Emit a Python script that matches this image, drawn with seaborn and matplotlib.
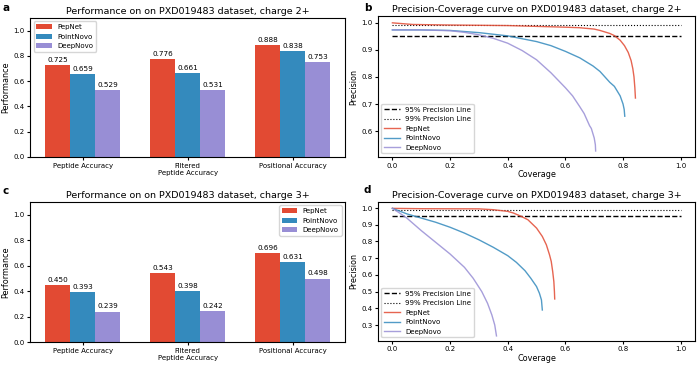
import numpy as np
import pandas as pd
import matplotlib
matplotlib.use("Agg")
import matplotlib.pyplot as plt
import seaborn as sns

# ---- data -------------------------------------------------------------
models = ["PepNet", "PointNovo", "DeepNovo"]
metrics = ["Peptide Accuracy", "Filtered\nPeptide Accuracy", "Positional Accuracy"]

perf_2 = {"PepNet": [0.725, 0.776, 0.888],
          "PointNovo": [0.659, 0.661, 0.838],
          "DeepNovo": [0.529, 0.531, 0.753]}
perf_3 = {"PepNet": [0.450, 0.543, 0.696],
          "PointNovo": [0.393, 0.398, 0.631],
          "DeepNovo": [0.239, 0.242, 0.498]}

# precision-coverage curves, charge 2+
pep2_cov = [0.0, 0.07, 0.2, 0.4, 0.6, 0.65, 0.7, 0.72, 0.754, 0.77, 0.79, 0.805,
            0.818, 0.828, 0.834, 0.838, 0.841, 0.843]
pep2_prec = [0.999, 0.993, 0.991, 0.989, 0.983, 0.981, 0.976, 0.971, 0.96, 0.952,
             0.935, 0.915, 0.89, 0.86, 0.83, 0.80, 0.76, 0.722]
pn2_cov = [0.0, 0.1, 0.2, 0.3, 0.4, 0.5, 0.55, 0.6, 0.65, 0.696, 0.72, 0.754, 0.77,
           0.79, 0.80, 0.804, 0.806]
pn2_prec = [0.973, 0.973, 0.971, 0.963, 0.951, 0.93, 0.915, 0.894, 0.87, 0.84, 0.82,
            0.78, 0.765, 0.73, 0.70, 0.68, 0.655]
dn2_cov = [0.0, 0.1, 0.2, 0.25, 0.3, 0.35, 0.4, 0.45, 0.5, 0.55, 0.6, 0.625, 0.65,
           0.665, 0.684, 0.69, 0.70, 0.704, 0.705]
dn2_prec = [0.973, 0.973, 0.97, 0.964, 0.955, 0.942, 0.924, 0.897, 0.863, 0.815,
            0.76, 0.73, 0.69, 0.665, 0.62, 0.61, 0.575, 0.55, 0.527]

# precision-coverage curves, charge 3+
pep3_cov = [0.0, 0.1, 0.3, 0.35, 0.4, 0.42, 0.447, 0.47, 0.5, 0.52, 0.534, 0.545,
            0.551, 0.556, 0.56, 0.562, 0.563]
pep3_prec = [0.998, 0.996, 0.995, 0.99, 0.98, 0.97, 0.95, 0.93, 0.88, 0.83, 0.78,
             0.72, 0.68, 0.62, 0.56, 0.50, 0.456]
pn3_cov = [0.0, 0.02, 0.05, 0.1, 0.15, 0.2, 0.25, 0.3, 0.35, 0.4, 0.43, 0.46, 0.48,
           0.5, 0.51, 0.517, 0.52]
pn3_prec = [0.998, 0.985, 0.965, 0.94, 0.915, 0.885, 0.85, 0.81, 0.765, 0.715, 0.675,
            0.625, 0.58, 0.53, 0.49, 0.45, 0.39]
dn3_cov = [0.0, 0.025, 0.05, 0.1, 0.15, 0.2, 0.25, 0.28, 0.31, 0.33, 0.345, 0.355,
           0.361]
dn3_prec = [0.998, 0.97, 0.94, 0.865, 0.795, 0.725, 0.645, 0.58, 0.50, 0.43, 0.36,
            0.30, 0.235]

precision_lines = [0.95, 0.99]
line_span = [0.0, 1.0]

colors = {"PepNet": "#E24A33", "PointNovo": "#348ABD", "DeepNovo": "#988ED5"}


def bar_panel(ax, perf, title, legend_loc):
    df = pd.DataFrame([(m, k, v) for m in models for k, v in zip(metrics, perf[m])],
                      columns=["model", "metric", "value"])
    sns.barplot(data=df, x="metric", y="value", hue="model", palette=colors,
                width=0.72, saturation=1, ax=ax)
    for cont in ax.containers:
        ax.bar_label(cont, fmt="%.3f", padding=1.5, fontsize=5.2)
    ax.set_ylim(0, 1.1)
    ax.set_yticks(np.arange(0, 1.01, 0.2))
    ax.set_xlabel("")
    ax.set_ylabel("Performance", fontsize=5.8, labelpad=2)
    ax.set_title(title, fontsize=6.8, pad=3)
    ax.tick_params(labelsize=5, length=2.5, pad=1.5)
    ax.legend(loc=legend_loc, fontsize=5, handlelength=2.2)


def curve_panel(ax, curves, title, ylim):
    ax.hlines(precision_lines[0], line_span[0], line_span[1], colors="black",
              linestyles="--", lw=1.0, label="95% Precision Line")
    ax.hlines(precision_lines[1], line_span[0], line_span[1], colors="black",
              linestyles=":", lw=0.8, label="99% Precision Line")
    for name, (cov, prec) in zip(models, curves):
        sns.lineplot(x=cov, y=prec, sort=False, estimator=None, color=colors[name],
                     lw=1.0, alpha=0.85, label=name, ax=ax)
    ax.set_xlim(-0.05, 1.05)
    ax.set_ylim(*ylim)
    ax.set_xticks(np.arange(0, 1.01, 0.2))
    ax.set_xlabel("Coverage", fontsize=5.8, labelpad=1)
    ax.set_ylabel("Precision", fontsize=5.8, labelpad=2)
    ax.set_title(title, fontsize=6.8, pad=3)
    ax.tick_params(labelsize=5, length=2.5, pad=1.5)
    ax.legend(loc="lower left", fontsize=5, handlelength=2.2)


fig = plt.figure(figsize=(7, 3.65), dpi=100)
ax_a = fig.add_axes([0.043, 0.570, 0.450, 0.381])
ax_b = fig.add_axes([0.540, 0.570, 0.453, 0.386])
ax_c = fig.add_axes([0.043, 0.063, 0.450, 0.384])
ax_d = fig.add_axes([0.540, 0.066, 0.453, 0.381])

bar_panel(ax_a, perf_2, "Performance on on PXD019483 dataset, charge 2+", "upper left")
bar_panel(ax_c, perf_3, "Performance on on PXD019483 dataset, charge 3+", "upper right")
curve_panel(ax_b, [(pep2_cov, pep2_prec), (pn2_cov, pn2_prec), (dn2_cov, dn2_prec)],
            "Precision-Coverage curve on PXD019483 dataset, charge 2+", (0.505, 1.024))
curve_panel(ax_d, [(pep3_cov, pep3_prec), (pn3_cov, pn3_prec), (dn3_cov, dn3_prec)],
            "Precision-Coverage curve on PXD019483 dataset, charge 3+", (0.205, 1.037))

for letter, x, y in [("a", 0.004, 0.978), ("b", 0.52, 0.978),
                     ("c", 0.004, 0.477), ("d", 0.52, 0.479)]:
    fig.text(x, y, letter, fontsize=7.5, fontweight="bold", va="center")

fig.savefig("out.png", dpi=100)
